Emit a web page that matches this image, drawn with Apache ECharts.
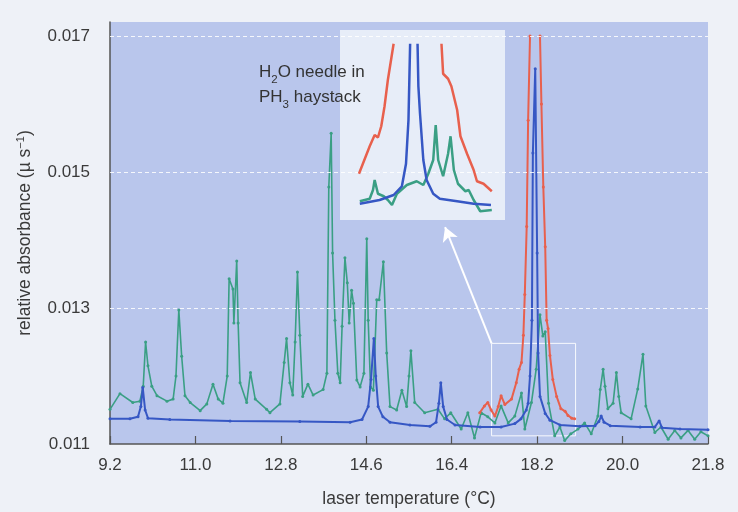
<!DOCTYPE html>
<html><head><meta charset="utf-8">
<script src="https://cdn.jsdelivr.net/npm/echarts@6/dist/echarts.min.js"></script>
<style>html,body{margin:0;padding:0;background:#eef1f7;}#c{width:738px;height:512px;}</style>
</head><body><div id="c"></div>
<script>
// ---- data (temperature in °C, absorbance in units of 10^-3 µs^-1) ----
const xTicks = [9.2, 11.0, 12.8, 14.6, 16.4, 18.2, 20.0, 21.8];
const yTicks = [0.011, 0.013, 0.015, 0.017];

const greenT = [9.20,9.41,9.68,9.83,9.90,9.95,10.00,10.08,10.19,10.40,10.53,10.59,10.65,10.71,10.78,10.89,11.10,11.24,11.37,11.48,11.58,11.67,11.71,11.79,11.81,11.87,11.90,11.94,12.08,12.16,12.26,12.50,12.57,12.78,12.87,12.92,12.99,13.05,13.10,13.15,13.20,13.26,13.37,13.48,13.69,13.77,13.81,13.86,13.89,13.94,14.00,14.05,14.09,14.15,14.20,14.24,14.29,14.33,14.40,14.47,14.55,14.61,14.64,14.69,14.75,14.82,14.87,14.96,15.03,15.10,15.24,15.35,15.45,15.50,15.54,15.62,15.83,16.11,16.25,16.38,16.60,16.74,16.88,17.02,17.16,17.31,17.44,17.59,17.73,17.87,17.94,18.08,18.18,18.26,18.32,18.37,18.44,18.57,18.68,18.78,18.91,19.06,19.20,19.34,19.48,19.53,19.59,19.63,19.69,19.80,19.87,19.92,19.97,20.18,20.32,20.43,20.49,20.68,20.81,20.96,21.10,21.23,21.38,21.52,21.65,21.80];
const greenA = [11.51,11.74,11.61,11.63,11.85,12.50,12.15,11.85,11.71,11.63,11.66,12.00,12.97,12.29,11.71,11.61,11.49,11.59,11.88,11.66,11.60,12.00,13.43,13.28,12.78,13.69,12.78,11.90,11.61,12.05,11.66,11.51,11.46,11.59,12.20,12.55,11.90,11.72,12.50,13.53,12.60,11.70,11.88,11.72,11.80,12.04,14.78,15.57,13.81,12.82,12.04,11.90,12.73,13.74,13.37,12.78,13.26,13.07,11.94,11.84,12.04,14.02,12.82,11.84,11.79,13.12,13.12,13.68,12.34,11.55,11.50,11.79,11.55,12.00,12.37,11.61,11.46,11.51,11.37,11.46,11.22,11.46,11.09,11.46,11.40,11.31,11.56,11.31,11.41,11.75,11.22,11.61,12.10,12.90,12.59,12.65,11.60,11.12,11.25,11.05,11.15,11.22,11.31,11.15,11.41,11.80,12.10,11.85,11.52,11.60,12.05,11.70,11.46,11.37,11.81,12.32,11.56,11.17,11.25,11.07,11.20,11.09,11.20,11.07,11.18,11.12];

const blueT = [9.20,9.62,9.79,9.85,9.89,9.94,10.00,10.46,11.73,13.20,14.26,14.51,14.64,14.70,14.76,14.80,14.85,14.95,15.10,15.52,15.94,16.07,16.13,16.17,16.22,16.30,16.47,17.00,17.44,17.73,17.86,17.97,18.01,18.05,18.09,18.11,18.16,18.20,18.22,18.26,18.37,18.47,18.68,19.10,19.42,19.50,19.55,19.61,19.74,20.37,20.68,20.77,20.83,21.21,21.80];
const blueA = [11.37,11.37,11.40,11.55,11.83,11.50,11.38,11.36,11.34,11.33,11.32,11.36,11.55,11.95,12.55,12.00,11.55,11.40,11.32,11.28,11.26,11.32,11.60,11.90,11.55,11.36,11.28,11.25,11.25,11.30,11.37,11.50,11.60,12.00,12.82,15.28,16.52,13.81,12.34,11.70,11.45,11.35,11.28,11.26,11.27,11.33,11.41,11.32,11.27,11.25,11.25,11.34,11.24,11.22,11.21];

const redT = [16.99,17.09,17.16,17.23,17.31,17.38,17.44,17.52,17.66,17.76,17.82,17.87,17.91,17.94,17.98,18.01,18.05,18.15,18.26,18.29,18.33,18.37,18.40,18.43,18.47,18.53,18.61,18.70,18.79,18.85,18.93,18.99];
const redA = [11.46,11.56,11.61,11.50,11.41,11.55,11.71,11.58,11.66,11.90,12.10,12.20,12.60,13.20,14.20,15.76,17.00,null,17.00,16.00,14.78,13.90,12.82,12.70,12.30,11.95,11.70,11.52,11.48,11.42,11.38,11.37];

// inset (magnified view of the boxed region)
const insetRedT = [17.35,17.48,17.54,17.58,17.62,17.66,17.70,17.77,17.86,18.35,18.37,18.43,18.47,18.54,18.58,18.66,18.74,18.78,18.86,18.96];
const insetRedA = [11.43,11.65,11.74,11.72,11.81,11.97,12.18,12.47,null,12.47,12.23,12.19,12.13,11.94,11.73,11.59,11.46,11.37,11.35,11.29];
const insetBlueT = [17.36,17.60,17.77,17.87,17.92,17.95,17.97,18.01,18.06,18.07,18.09,18.13,18.17,18.25,18.33,18.54,18.74,18.95];
const insetBlueA = [11.19,11.22,11.26,11.33,11.51,11.86,12.47,null,12.47,12.13,11.91,11.54,11.38,11.27,11.23,11.21,11.19,11.18];
const insetGreenT = [17.36,17.48,17.52,17.54,17.58,17.65,17.70,17.75,17.81,17.93,18.05,18.13,18.19,18.25,18.28,18.31,18.37,18.43,18.46,18.50,18.55,18.64,18.68,18.74,18.82,18.96];
const insetGreenA = [11.21,11.23,11.30,11.38,11.27,11.25,11.22,11.18,11.27,11.34,11.37,11.34,11.43,11.54,11.82,11.54,11.41,11.59,11.73,11.46,11.35,11.29,11.30,11.22,11.13,11.14];

const zoomBoxT = [17.24, 19.01];
const zoomBoxA = [11.12, 12.48];
const arrowTip = [16.26, 14.19];

// ---- chart ----
const X0 = xTicks[0], Y0 = yTicks[0] * 1000;
const XSTEP = xTicks[1] - xTicks[0], YSTEP = (yTicks[1] - yTicks[0]) * 1000;
const toMain = (ts, as) => ts.map((t, i) => [+(t - X0).toFixed(4), as[i] == null ? '-' : +(as[i] - Y0).toFixed(4)]);
const toPairs = (ts, as) => ts.map((t, i) => [t, as[i] == null ? '-' : as[i]]);

const FONT = '"Liberation Sans", Arial, sans-serif';
const TXT = '#3a3a3a';
const GREEN = '#3a9f84', BLUE = '#3657c4', RED = '#e8604d';

const chart = echarts.init(document.getElementById('c'));
chart.setOption({
  backgroundColor: '#eef1f7',
  animation: false,
  grid: [
    {left: 110, top: 22, width: 598, height: 422, show: true, backgroundColor: '#b9c6ec', borderWidth: 0, z: 0,
     containLabel: false, outerBoundsMode: 'none'},
    {left: 340, top: 30, width: 165, height: 190, show: true, backgroundColor: '#e7edf8', borderWidth: 0, z: 5,
     containLabel: false, outerBoundsMode: 'none'}
  ],
  xAxis: [
    {gridIndex: 0, type: 'value', min: 0, max: +(xTicks[xTicks.length-1] - X0).toFixed(4), interval: XSTEP,
     axisLine: {lineStyle: {color: '#555', width: 1.5}},
     axisTick: {inside: true, length: 8, lineStyle: {color: '#555', width: 1.2}},
     axisLabel: {formatter: v => (v + X0).toFixed(1), fontSize: 17, color: TXT, margin: 13, fontFamily: FONT},
     splitLine: {show: false},
     name: 'laser temperature (°C)', nameLocation: 'middle', nameGap: 46,
     nameTextStyle: {fontSize: 17.5, color: TXT, fontFamily: FONT}},
    {gridIndex: 1, type: 'value', min: 17.12, max: 19.12, show: false}
  ],
  yAxis: [
    {gridIndex: 0, type: 'value', min: 0, max: 6.206, interval: YSTEP,
     axisLine: {show: true, lineStyle: {color: '#555', width: 1.5}},
     axisTick: {show: false},
     axisLabel: {formatter: v => ((v + Y0) / 1000).toFixed(3), fontSize: 17, color: TXT, margin: 20, fontFamily: FONT, showMaxLabel: false},
     splitLine: {show: false},
     name: '{n|relative absorbance (µ s}{sup|−1}{n|)}', nameLocation: 'middle', nameGap: 76,
     nameTextStyle: {fontFamily: FONT, color: TXT, rich: {
       n: {fontSize: 17.5, color: TXT, fontFamily: FONT, verticalAlign: 'bottom'},
       sup: {fontSize: 11, color: TXT, fontFamily: FONT, verticalAlign: 'bottom', padding: [0, 0, 8, 0]}
     }}},
    {gridIndex: 1, type: 'value', min: 11.06, max: 12.58, show: false}
  ],
  graphic: [{
    type: 'text', left: 259, top: 64, z: 20,
    style: {
      text: '{n|H}{s|2}{n|O needle in}\n{n|PH}{s|3}{n| haystack}',
      rich: {
        n: {fontSize: 17, fill: '#333', fontFamily: FONT, verticalAlign: 'bottom', padding: [0, 0, 5, 0], lineHeight: 25},
        s: {fontSize: 11.5, fill: '#333', fontFamily: FONT, verticalAlign: 'bottom', lineHeight: 25}
      }
    }
  }],
  series: [
    {type: 'line', name: 'grid', xAxisIndex: 0, yAxisIndex: 0, data: [], z: 1, silent: true,
     markLine: {silent: true, symbol: ['none', 'none'], label: {show: false},
       lineStyle: {color: '#ffffff', type: [4, 3], width: 1, opacity: 0.85},
       data: yTicks.slice(1).map(v => ({yAxis: +(v * 1000 - Y0).toFixed(4)}))}},
    {type: 'line', name: 'PH3', xAxisIndex: 0, yAxisIndex: 0, data: toMain(greenT, greenA), z: 2,
     symbol: 'circle', symbolSize: 3, showSymbol: true, lineStyle: {color: GREEN, width: 1.6}, itemStyle: {color: GREEN}},
    {type: 'line', name: 'red', xAxisIndex: 0, yAxisIndex: 0, data: toMain(redT, redA), z: 3, connectNulls: false,
     symbol: 'circle', symbolSize: 3, showSymbol: true, lineStyle: {color: RED, width: 2}, itemStyle: {color: RED}},
    {type: 'line', name: 'H2O', xAxisIndex: 0, yAxisIndex: 0, data: toMain(blueT, blueA), z: 4,
     symbol: 'circle', symbolSize: 3, showSymbol: true, lineStyle: {color: BLUE, width: 2}, itemStyle: {color: BLUE},
     markArea: {silent: true, itemStyle: {color: 'rgba(0,0,0,0)', borderColor: 'rgba(255,255,255,0.9)', borderWidth: 1},
       data: [[{xAxis: zoomBoxT[0] - X0, yAxis: zoomBoxA[1] - Y0}, {xAxis: zoomBoxT[1] - X0, yAxis: zoomBoxA[0] - Y0}]]},
     markLine: {silent: true, symbol: ['none', 'arrow'], symbolSize: [12, 14], label: {show: false},
       lineStyle: {color: '#ffffff', width: 2, type: 'solid'},
       data: [[{coord: [zoomBoxT[0] - X0, zoomBoxA[1] - Y0]}, {coord: [arrowTip[0] - X0, arrowTip[1] - Y0]}]]}},
    {type: 'line', xAxisIndex: 1, yAxisIndex: 1, data: toPairs(insetRedT, insetRedA), z: 6, showSymbol: false, symbol: 'none',
     lineStyle: {color: RED, width: 2.5}},
    {type: 'line', xAxisIndex: 1, yAxisIndex: 1, data: toPairs(insetGreenT, insetGreenA), z: 6, showSymbol: false, symbol: 'none',
     lineStyle: {color: GREEN, width: 2.5}},
    {type: 'line', xAxisIndex: 1, yAxisIndex: 1, data: toPairs(insetBlueT, insetBlueA), z: 7, showSymbol: false, symbol: 'none',
     lineStyle: {color: BLUE, width: 2.5}}
  ]
});
</script>
</body></html>
